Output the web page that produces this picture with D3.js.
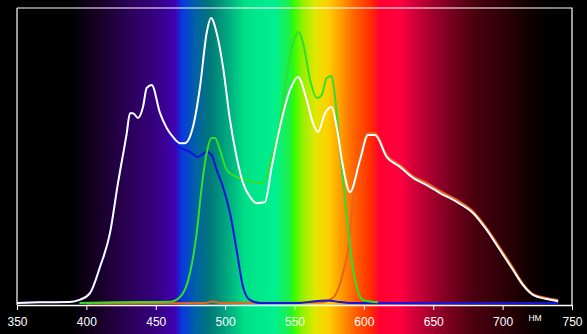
<!DOCTYPE html>
<html>
<head>
<meta charset="utf-8">
<script src="https://cdn.jsdelivr.net/npm/d3@7"></script>
<style>
  html, body { margin: 0; padding: 0; background: #000; }
  svg { display: block; }
</style>
</head>
<body>
<div id="chart"></div>
<script>
// Spectrum curves: [wavelength nm, relative intensity %]
var whiteData = [
  [350, 0.7], [366, 0.9], [388, 1], [395, 1.7], [402.6, 4.0], [409.8, 12.8], [417, 24.2],
  [422.8, 41.1], [429.1, 57.9], [431.4, 64.6], [433.6, 64.6], [437.2, 63.0], [440.8, 66.7],
  [443.5, 73.1], [447.1, 74.1], [453.1, 64.6], [457.9, 59.6], [462.4, 56.6], [467.5, 54.5],
  [471.1, 54.5], [476.8, 59.9], [481.9, 73.4], [486.7, 91.6], [489.8, 96.6], [493.9, 91.6],
  [498.5, 80.1], [503.5, 62.3], [508.3, 49.8], [512.9, 41.1], [517.9, 36.4], [522.8, 34.3],
  [528.7, 34.7], [533.6, 46.5], [539.5, 59.9], [546.8, 72.4], [552.5, 76.8], [558.8, 69.0],
  [563.3, 61.3], [566.9, 58.2], [572, 64.6], [576.8, 66.7], [580.4, 59.9], [585, 46.5],
  [590, 38.0], [597.2, 48.8], [603, 57.2], [608, 57.2], [616.5, 49.8], [626, 46.5],
  [635.4, 42.8], [645.3, 40.4], [654.9, 37.7], [667, 34.7], [678.6, 31.0], [688.5, 25.3],
  [698.1, 18.5], [707.5, 11.8], [714.7, 6.7], [721.9, 3.4], [731.8, 2.0], [740, 1.3]
];

var blueData = [
  [350, 0.7], [366, 0.9], [388, 1], [395, 1.7], [402.6, 4.0], [409.8, 12.8], [417, 24.2],
  [422.8, 41.1], [429.1, 57.9], [431.4, 64.6], [433.6, 64.6], [437.2, 63.0], [440.8, 66.7],
  [443.5, 73.1], [447.1, 74.1], [453.1, 64.6], [457.9, 59.6], [462.4, 55.6], [466, 53.2],
  [467.5, 52.9], [474.7, 51.5], [480.4, 49.8], [486.7, 51.5], [490.3, 50.5], [493.9, 45.5],
  [498.5, 39.7], [503.5, 31.0], [508.3, 18.5], [512.9, 6.1], [517.9, 1.7], [525.1, 0.7],
  [554, 0.7], [563.3, 1.2], [574.1, 1.5], [582.8, 1.0], [590, 0.7], [740, 0.7]
];

var greenData = [
  [395, 0.7], [420.6, 0.9], [460.3, 1.1], [467.5, 2.7], [474.7, 10.8], [479.5, 24.2],
  [483.1, 39.7], [486.7, 51.2], [490.3, 56.2], [492.7, 56.2], [496.3, 52.2], [501.1, 45.5],
  [508.3, 43.1], [515.5, 42.1], [522.8, 41.1], [527.3, 41.1], [532.3, 47.8], [539.5, 61.3],
  [545.3, 80.1], [550.4, 90.2], [553.2, 91.9], [556.8, 86.9], [561.2, 75.8], [566.3, 69.7],
  [569.6, 70.7], [573.2, 76.4], [576.8, 77.1], [579.2, 70.0], [582.8, 52.2], [586.4, 35.4],
  [590, 19.5], [594.8, 6.1], [599.4, 1.7], [610.2, 0.9]
];

var orangeData = [
  [400, 0.5], [485.5, 0.7], [491.3, 1.2], [497, 0.7], [568.4, 0.8], [577.7, 2.4],
  [585, 10.8], [588.6, 18.5], [592.2, 35.4], [595.8, 47.1], [599.4, 54.5], [603, 57.9],
  [608, 57.9], [616.5, 50.5], [626, 47.1], [635.4, 43.4], [645.3, 41.1], [654.9, 38.4],
  [667, 35.4], [678.6, 31.6], [688.5, 25.9], [698.1, 19.2], [707.5, 12.5], [714.7, 7.1],
  [721.9, 3.7], [731.8, 2.4], [740, 1.7]
];

// Background spectrum colours by wavelength
var spectrumStops = [
  [330, "#000000"], [388, "#000000"], [409.8, "#180028"], [431.4, "#2c0058"], [453, "#380088"],
  [463.9, "#4000b0"], [468.9, "#0838e0"], [478.3, "#0060a8"], [489.1, "#007878"],
  [503.5, "#00b080"], [514.3, "#00e088"], [536, "#00f090"], [546.8, "#20f040"],
  [549.6, "#30ff00"], [555.4, "#90f000"], [564.8, "#e0e800"], [574.1, "#ffd000"],
  [582.8, "#ffa000"], [593.6, "#ff6000"], [604.4, "#ff3000"], [611.6, "#ff0030"],
  [626, "#ff0040"], [636.8, "#d00038"], [654.9, "#900028"], [676.5, "#500010"],
  [698.1, "#300008"], [719.7, "#100000"], [734.1, "#000000"], [770, "#000000"]
];

var xTicks = [350, 400, 450, 500, 550, 600, 650, 700, 750];

var width = 587, height = 334;

var svg = d3.select("#chart").append("svg")
    .attr("width", width)
    .attr("height", height);

var x = d3.scaleLinear().domain([350, 750]).range([17, 572]);
var y = d3.scaleLinear().domain([0, 100]).range([305, 8]);

// Spectrum gradient across the whole picture
var grad = svg.append("defs").append("linearGradient")
    .attr("id", "spectrum")
    .attr("gradientUnits", "userSpaceOnUse")
    .attr("x1", 0).attr("x2", width)
    .attr("y1", 0).attr("y2", 0);

grad.selectAll("stop")
    .data(spectrumStops)
    .enter().append("stop")
    .attr("offset", function(d) { return Math.max(0, Math.min(1, x(d[0]) / width)); })
    .attr("stop-color", function(d) { return d[1]; });

svg.append("rect")
    .attr("width", width)
    .attr("height", height)
    .attr("fill", "url(#spectrum)");

// Frame: top and right edges, left edge
svg.append("path")
    .attr("d", "M" + x(350) + "," + y(100) + "H" + x(750) + "V" + y(0))
    .attr("fill", "none")
    .attr("stroke", "#fff")
    .attr("stroke-width", 1.2);

svg.append("line")
    .attr("x1", x(350)).attr("x2", x(350))
    .attr("y1", y(100)).attr("y2", y(0))
    .attr("stroke", "#fff")
    .attr("stroke-width", 1.2);

// Bottom axis
var axis = svg.append("g")
    .attr("transform", "translate(0," + y(0) + ")")
    .call(d3.axisBottom(x).tickValues(xTicks).tickSize(5).tickSizeOuter(0).tickPadding(7));

axis.select(".domain").attr("stroke", "#fff").attr("stroke-width", 1.6);
axis.selectAll(".tick line").attr("stroke", "#fff");
axis.selectAll(".tick text")
    .attr("fill", "#fff")
    .attr("font-family", "Liberation Sans, Arial, sans-serif")
    .attr("font-size", 12);

svg.append("text")
    .attr("x", 535)
    .attr("y", 321)
    .attr("text-anchor", "middle")
    .attr("fill", "#fff")
    .attr("font-family", "Liberation Sans, Arial, sans-serif")
    .attr("font-size", 8.5)
    .text("НМ");

// Curves
var line = d3.line()
    .x(function(d) { return x(d[0]); })
    .y(function(d) { return y(d[1]); })
    .curve(d3.curveMonotoneX);

var series = [
  { data: orangeData, color: "#e8641a", w: 2 },
  { data: blueData, color: "#1414dc", w: 2 },
  { data: greenData, color: "#2ee02a", w: 2 },
  { data: whiteData, color: "#ffffff", w: 2 }
];

svg.selectAll(".curve")
    .data(series)
    .enter().append("path")
    .attr("class", "curve")
    .attr("d", function(d) { return line(d.data); })
    .attr("fill", "none")
    .attr("stroke", function(d) { return d.color; })
    .attr("stroke-width", function(d) { return d.w; })
    .attr("stroke-linejoin", "round");
</script>
</body>
</html>
